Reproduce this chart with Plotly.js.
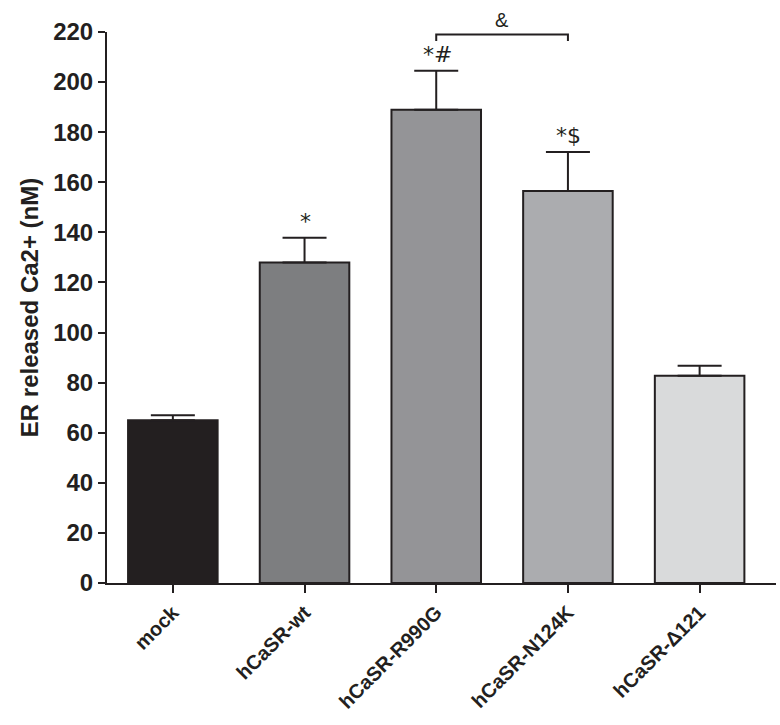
<!DOCTYPE html>
<html>
<head>
<meta charset="utf-8">
<script src="https://cdn.plot.ly/plotly-3.0.1.min.js"></script>
<style>html,body{margin:0;padding:0;background:#fff;}#chart{width:780px;height:725px;}</style>
</head>
<body>
<div id="chart"></div>
<script>
const categories = ["mock", "hCaSR-wt", "hCaSR-R990G", "hCaSR-N124K", "hCaSR-\u0394121"];
const values = [65, 128, 189, 156.5, 82.7];
const errors = [2, 9.8, 15.5, 15.6, 4];
const barColors = ["#231f20", "#7d7e80", "#949497", "#abacaf", "#d9dadb"];
const sigLabels = ["", "*", "*#", "*$", ""];
const bracketFrom = 2, bracketTo = 3, bracketY = 219, bracketDrop = 2.6, bracketLabel = "&";

const ink = "#231f20";
const trace = {
  type: "bar",
  x: categories.map((c, i) => i),
  y: values,
  width: 0.68,
  marker: {color: barColors, line: {color: ink, width: 2}},
  error_y: {type: "data", symmetric: false, array: errors, arrayminus: errors.map(() => 0),
            color: ink, thickness: 2, width: 22, visible: true},
  hoverinfo: "none"
};

const annotations = [];
sigLabels.forEach((s, i) => {
  if (!s) return;
  annotations.push({x: i, y: values[i] + errors[i], xref: "x", yref: "y", text: s,
    showarrow: false, yanchor: "bottom", yshift: 2, xshift: 1,
    font: {family: "DejaVu Sans, Liberation Sans, Arial", size: 22, color: ink}});
});
annotations.push({x: (bracketFrom + bracketTo) / 2, y: bracketY, xref: "x", yref: "y",
  text: bracketLabel, showarrow: false, yanchor: "bottom", yshift: 2,
  font: {family: "Liberation Sans, Arial", size: 20, color: ink}});

const shapes = [{type: "path", xref: "x", yref: "y",
  path: `M ${bracketFrom},${bracketY - bracketDrop} L ${bracketFrom},${bracketY} L ${bracketTo},${bracketY} L ${bracketTo},${bracketY - bracketDrop}`,
  line: {color: ink, width: 2}}];

const layout = {
  width: 780, height: 725,
  margin: {l: 107, r: 4, t: 32, b: 142},
  paper_bgcolor: "#fff", plot_bgcolor: "#fff",
  showlegend: false,
  xaxis: {
    range: [-0.5, 4.58], tickmode: "array", tickvals: categories.map((c, i) => i), ticktext: categories,
    tickangle: -45, ticks: "outside", ticklen: 8, tickwidth: 2, tickcolor: ink,
    showline: true, linecolor: ink, linewidth: 2, showgrid: false, zeroline: false,
    tickfont: {family: "Liberation Sans, Arial", size: 20, weight: "bold", color: ink}
  },
  yaxis: {
    range: [0, 220], tickmode: "linear", tick0: 0, dtick: 20,
    ticks: "outside", ticklen: 7, tickwidth: 2, tickcolor: ink,
    showline: true, linecolor: ink, linewidth: 2, showgrid: false, zeroline: false,
    tickfont: {family: "Liberation Sans, Arial", size: 24, weight: "bold", color: ink},
    title: {text: "ER released Ca2+ (nM)", standoff: 8,
      font: {family: "Liberation Sans, Arial", size: 24, weight: "bold", color: ink}}
  },
  annotations: annotations,
  shapes: shapes
};

Plotly.newPlot("chart", [trace], layout, {displayModeBar: false, staticPlot: true});
</script>
</body>
</html>
